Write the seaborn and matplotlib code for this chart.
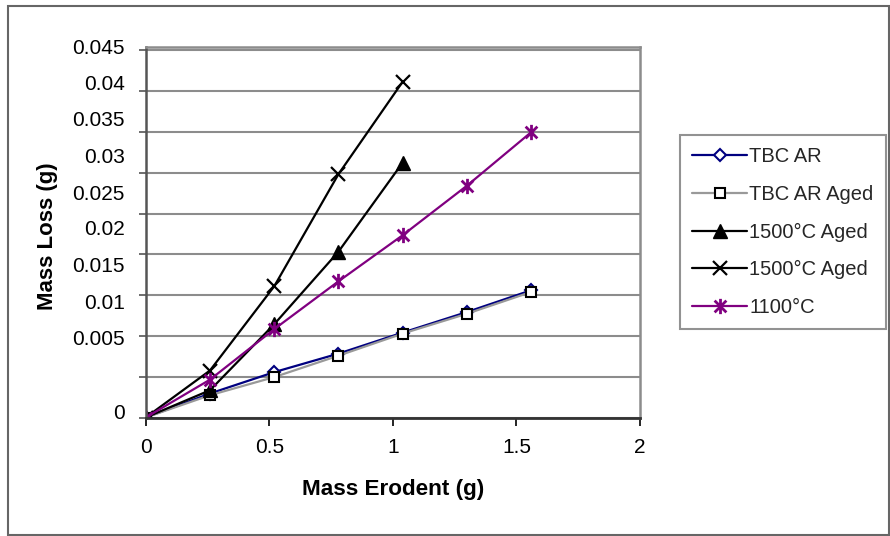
import matplotlib
matplotlib.use("Agg")
import matplotlib.pyplot as plt
import seaborn as sns
import numpy as np
from matplotlib.path import Path
from matplotlib.patches import Rectangle

# ---- data ----
x_erodent = [0, 0.26, 0.52, 0.78, 1.04, 1.30, 1.56]
tbc_ar = [0, 0.00294, 0.00556, 0.00783, 0.01041, 0.01293, 0.0156]
tbc_ar_aged = [0, 0.00273, 0.00495, 0.00758, 0.01029, 0.01272, 0.01539]
x_short = [0, 0.26, 0.52, 0.78, 1.04]
aged1500_a = [0, 0.00334, 0.01143, 0.02033, 0.03125]
aged1500_b = [0, 0.00576, 0.01608, 0.02983, 0.04117]
c1100 = [0, 0.00464, 0.01083, 0.01669, 0.02235, 0.02842, 0.03498]

series_names = ["TBC AR", "TBC AR Aged", "1500°C Aged", "1500°C Aged", "1100°C"]
y_ticks = [0, 0.005, 0.01, 0.015, 0.02, 0.025, 0.03, 0.035, 0.04, 0.045]
y_tick_labels = ["0", "0.005", "0.01", "0.015", "0.02", "0.025", "0.03", "0.035", "0.04", "0.045"]
y_label_pos = [0.0007, 0.00981, 0.01426, 0.01879, 0.02324, 0.02761, 0.0321, 0.03671, 0.04108, 0.04545]
x_ticks = [0, 0.5, 1, 1.5, 2]
x_tick_labels = ["0", "0.5", "1", "1.5", "2"]

# ---- style ----
sns.set_theme(style="white")
plt.rcParams["font.family"] = ["Liberation Sans", "DejaVu Sans"]

fig = plt.figure(figsize=(8.9, 5.36), dpi=100)
ax = fig.add_axes([145.7 / 890, 1 - 417.5 / 536, (640 - 145.7) / 890, (417.5 - 46.7) / 536])

star = Path([(-1, -1), (1, 1), (-1, 1), (1, -1), (0, -1.3), (0, 1.3)],
            [Path.MOVETO, Path.LINETO, Path.MOVETO, Path.LINETO, Path.MOVETO, Path.LINETO])

specs = [
    (x_erodent, tbc_ar, "#000080", dict(marker="D", markersize=6.5, markerfacecolor="white", markeredgecolor="#000080", markeredgewidth=1.5)),
    (x_erodent, tbc_ar_aged, "#999999", dict(marker="s", markersize=7, markerfacecolor="white", markeredgecolor="black", markeredgewidth=1.5)),
    (x_short, aged1500_a, "black", dict(marker="^", markersize=10, markerfacecolor="black", markeredgecolor="black", markeredgewidth=1)),
    (x_short, aged1500_b, "black", dict(marker="x", markersize=10, markeredgecolor="black", markeredgewidth=1.6)),
    (x_erodent, c1100, "#800080", dict(marker=star, markersize=11, markerfacecolor="#800080", markeredgecolor="#800080", markeredgewidth=2)),
]

for (xs, ys, col, mk), name in zip(specs, series_names):
    sns.lineplot(x=xs, y=ys, color=col, linewidth=1.6, label=name, ax=ax, **mk)

ax.set_xlim(0, 2)
ax.set_ylim(0, 0.045)
ax.set_xticks(x_ticks, x_tick_labels)
ax.set_yticks(y_ticks, [""] * len(y_ticks))
ax.set_yticks(y_label_pos, y_tick_labels, minor=True)
ax.tick_params(axis="y", which="major", left=True, length=5, width=1.2, color="#555555")
ax.tick_params(axis="y", which="minor", left=True, length=0, pad=15, labelsize=15, labelcolor="black")
ax.tick_params(axis="x", which="major", bottom=True, length=6, width=1.2, color="black",
               pad=9, labelsize=15, labelcolor="black")

ax.yaxis.grid(True, which="major", color="#8c8c8c", linewidth=1.5)
ax.xaxis.grid(False)
for side in ["top", "right"]:
    ax.spines[side].set_color("#8c8c8c")
    ax.spines[side].set_linewidth(1.8)
ax.spines["left"].set_color("#555555")
ax.spines["left"].set_linewidth(1.8)
ax.spines["bottom"].set_color("#333333")
ax.spines["bottom"].set_linewidth(2)

ax.set_xlabel("Mass Erodent (g)", fontsize=16.2, fontweight="bold", color="black")
ax.set_ylabel("Mass Loss (g)", fontsize=16, fontweight="bold", color="black")
ax.xaxis.set_label_coords(0.5, -0.165)
ax.yaxis.set_label_coords(-0.177, 0.488)

leg = ax.legend(loc="upper left", bbox_to_anchor=(680 / 890, 1 - 135 / 536),
                bbox_transform=fig.transFigure, borderaxespad=0, fontsize=14.5,
                frameon=True, fancybox=False, handlelength=2.74, handletextpad=0.1,
                labelspacing=0.93, borderpad=0.6)
leg.get_frame().set_edgecolor("#777777")
leg.get_frame().set_linewidth(1.5)

fig.patches.append(Rectangle((8 / 890, 1 - 535 / 536), (889 - 8) / 890, (535 - 6) / 536,
                             transform=fig.transFigure, fill=False, edgecolor="#666666",
                             linewidth=1.5, figure=fig))

fig.savefig("out.png", dpi=100)
